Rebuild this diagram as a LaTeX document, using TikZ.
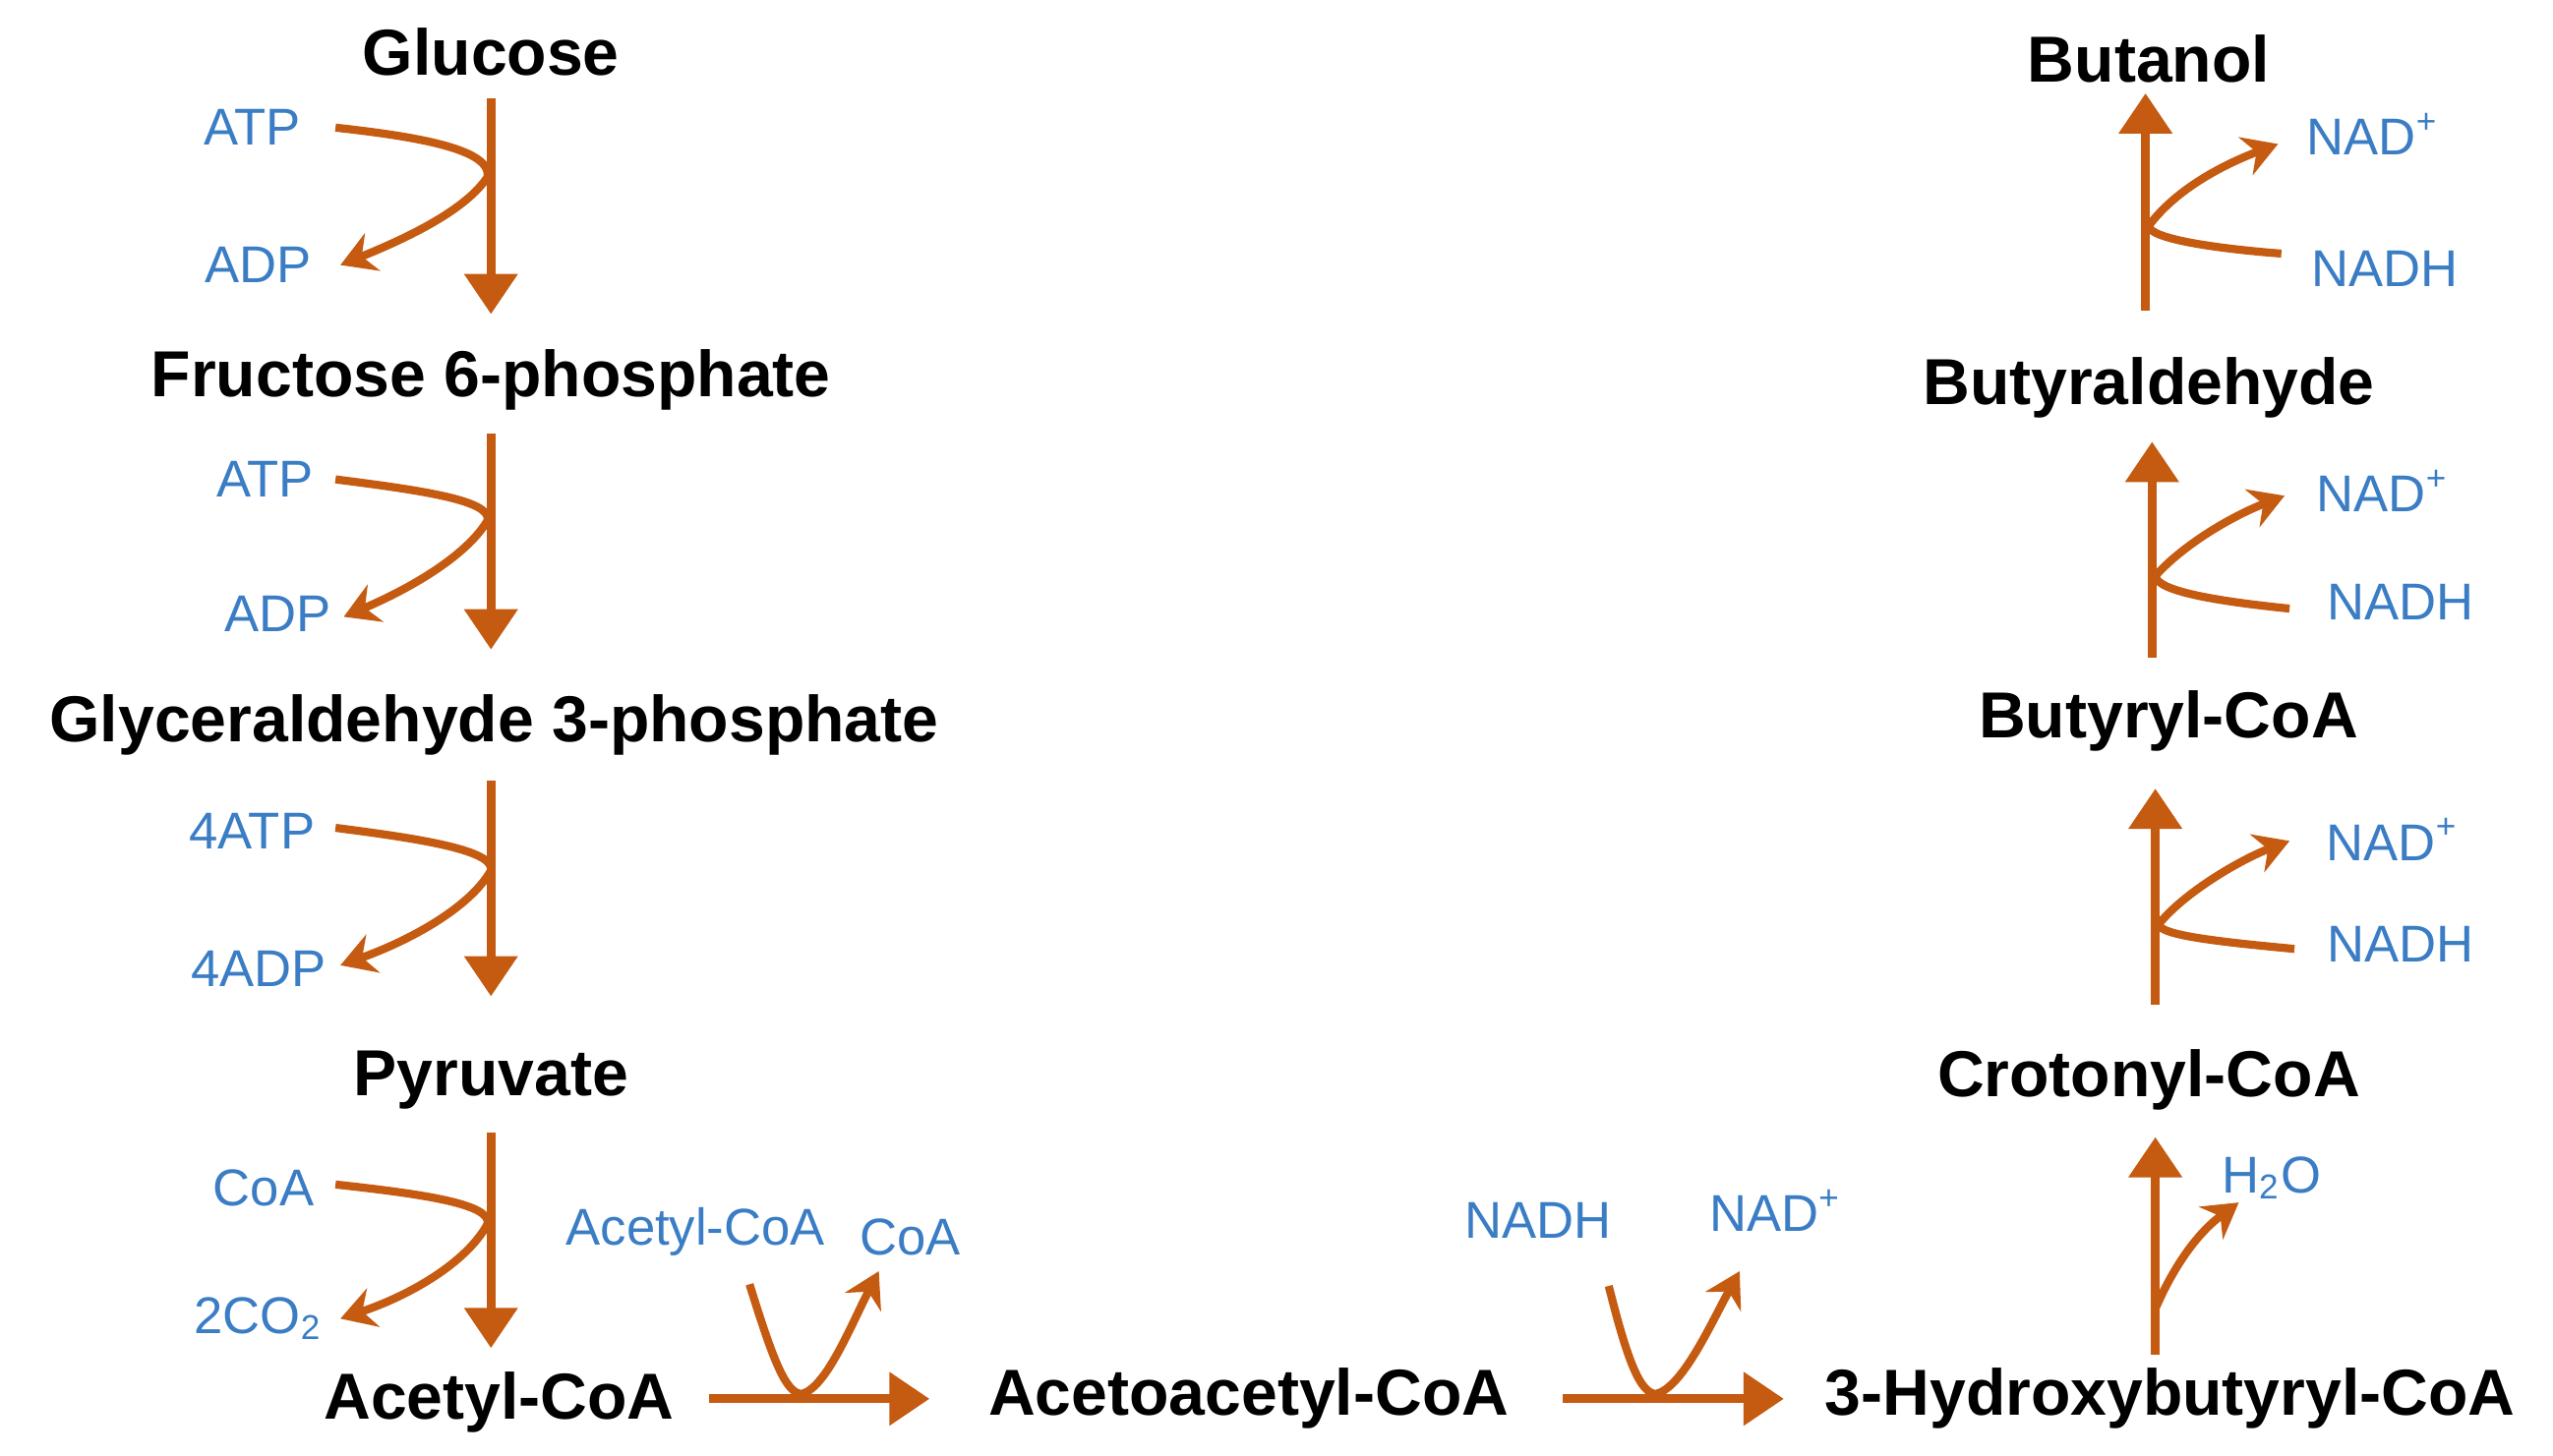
\documentclass[tikz,border=0pt]{standalone}
\usepackage{fontspec}
\setmainfont{Liberation Sans}
\usetikzlibrary{arrows.meta}
\definecolor{rx}{HTML}{C55A11}
\definecolor{co}{HTML}{3A7DC4}
\begin{document}
\begin{tikzpicture}[x=0.01cm,y=-0.01cm,
 met/.style={font=\fontsize{11.3}{13}\selectfont\bfseries,text=black,inner sep=0pt},
 cof/.style={font=\fontsize{9}{11}\selectfont,text=co,inner sep=0pt},
 main/.style={draw=rx,line width=1.5pt,-{Triangle[length=7pt,width=9pt]}},
 side/.style={draw=rx,line width=1.4pt,-{Stealth[length=6pt,width=7pt,inset=2pt]}},
 plain/.style={draw=rx,line width=1.4pt}]
\useasboundingbox (0,0) rectangle (1560,889.4);
% metabolites
\node[met] (glc) at (300,32) {Glucose};
\node[met] (f6p) at (300,232) {Fructose 6-phosphate};
\node[met] (g3p) at (302,443) {Glyceraldehyde 3-phosphate};
\node[met] (pyr) at (300,660) {Pyruvate};
\node[met] (acc) at (305,857) {Acetyl-CoA};
\node[met] (aac) at (763,855) {Acetoacetyl-CoA};
\node[met] (hbc) at (1326,855) {3-Hydroxybutyryl-CoA};
\node[met] (crc) at (1313,660) {Crotonyl-CoA};
\node[met] (buc) at (1325,441) {Butyryl-CoA};
\node[met] (bal) at (1313,237) {Butyraldehyde};
\node[met] (bol) at (1313,36) {Butanol};
% cofactors
\node[cof] (atp1) at (154,78) {ATP};
\node[cof] (adp1) at (158,162) {ADP};
\node[cof] (atp2) at (162,293) {ATP};
\node[cof] (adp2) at (170,375) {ADP};
\node[cof] (atp3) at (154,508) {4ATP};
\node[cof] (adp3) at (158,592) {4ADP};
\node[cof] (coa1) at (161,726) {CoA};
\node[cof] (co2) at (158,806) {2CO\textsubscript{2}};
\node[cof] (acl) at (425,753) {Acetyl-CoA};
\node[cof] (coa2) at (556,756) {CoA};
\node[cof] (nadh1) at (940,746) {NADH};
\node[cof] (nad1) at (1085,740) {NAD\textsuperscript{+}};
\node[cof] (h2o) at (1388,720) {H\textsubscript{2}O};
\node[cof] (nad2) at (1462,513) {NAD\textsuperscript{+}};
\node[cof] (nadh2) at (1467,577) {NADH};
\node[cof] (nad3) at (1456,300) {NAD\textsuperscript{+}};
\node[cof] (nadh3) at (1467,368) {NADH};
\node[cof] (nad4) at (1450,82) {NAD\textsuperscript{+}};
\node[cof] (nadh4) at (1457,164) {NADH};
% left vertical
\draw[main] (300,60) -- (300,192);
\draw[main] (300,265) -- (300,397);
\draw[main] (300,477) -- (300,609);
\draw[main] (300,692) -- (300,824);
\coordinate (p1) at (298,108); \coordinate (p2) at (298,318);
\coordinate (p3) at (300,532); \coordinate (p4) at (298,748);
\draw[side] (205,78) .. controls (260,84) and (300,92) .. (p1) .. controls (285,128) and (250,145) .. (208,162);
\draw[side] (205,293) .. controls (260,300) and (300,306) .. (p2) .. controls (285,340) and (250,360) .. (210,377);
\draw[side] (205,506) .. controls (260,513) and (302,520) .. (p3) .. controls (287,555) and (250,575) .. (208,590);
\draw[side] (205,724) .. controls (260,730) and (300,736) .. (p4) .. controls (285,772) and (250,792) .. (208,806);
% horizontal
\draw[main] (433,855) -- (568,855);
\draw[main] (955,855) -- (1090,855);
\coordinate (v1) at (490,852); \coordinate (v2) at (1012,852);
\draw[side] (458,785) .. controls (472,830) and (480,852) .. (v1) .. controls (505,848) and (520,810) .. (537,777);
\draw[side] (983,786) .. controls (994,830) and (1002,852) .. (v2) .. controls (1028,848) and (1045,810) .. (1063,777);
% right vertical
\draw[main] (1317,828) -- (1317,695);
\draw[side] (1317,800) .. controls (1330,770) and (1345,752) .. (1368,735);
\draw[main] (1317,614) -- (1317,482);
\draw[side] (1402,580) .. controls (1360,576) and (1320,572) .. (1319,565) .. controls (1335,545) and (1370,525) .. (1399,514);
\draw[main] (1315,402) -- (1315,270);
\draw[side] (1399,372) .. controls (1360,368) and (1318,362) .. (1317,352) .. controls (1335,332) and (1365,315) .. (1396,303);
\draw[main] (1311,190) -- (1311,57);
\draw[side] (1394,155) .. controls (1355,152) and (1313,146) .. (1313,138) .. controls (1330,115) and (1360,100) .. (1392,88);
\end{tikzpicture}
\end{document}
